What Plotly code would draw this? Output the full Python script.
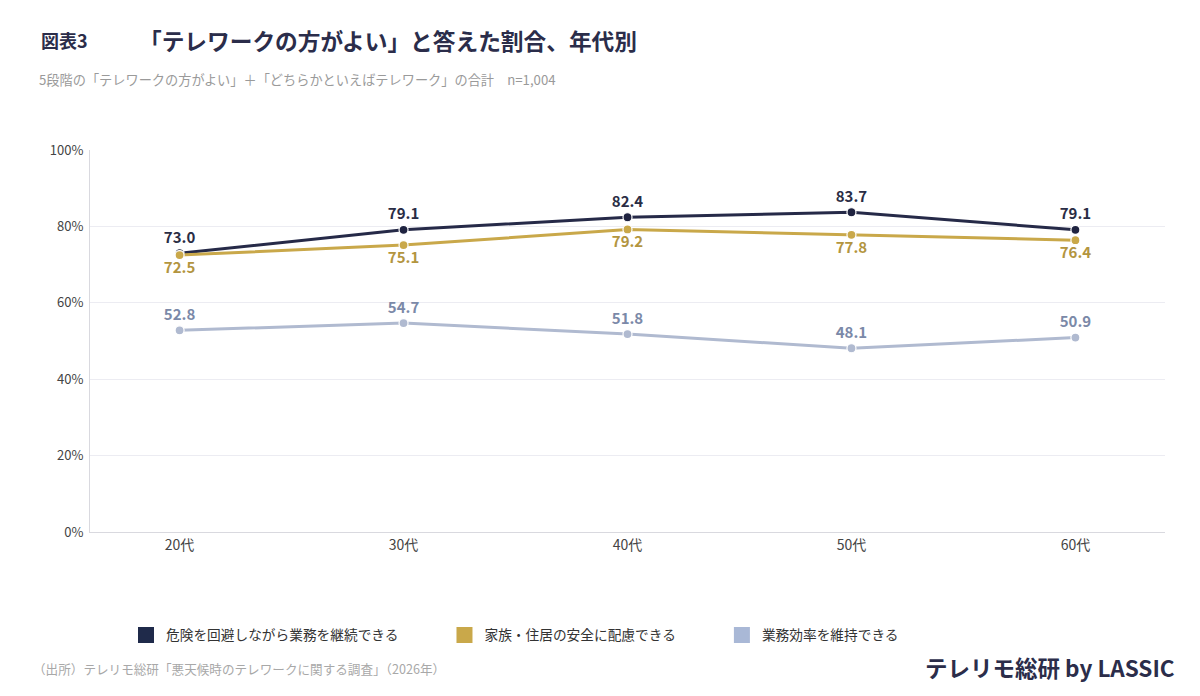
import plotly.graph_objects as go

categories = ["20代", "30代", "40代", "50代", "60代"]
series_names = ["危険を回避しながら業務を継続できる", "家族・住居の安全に配慮できる", "業務効率を維持できる"]
risk_avoid = [73.0, 79.1, 82.4, 83.7, 79.1]
family_safety = [72.5, 75.1, 79.2, 77.8, 76.4]
efficiency = [52.8, 54.7, 51.8, 48.1, 50.9]
y_ticks = [0, 20, 40, 60, 80, 100]

FONT = "Noto Sans CJK JP"
line_colors = ["#262a48", "#c9a84a", "#b0bad0"]
marker_colors = ["#1f2340", "#c9a84a", "#b0bad0"]
label_colors = ["#2a2d45", "#b3953f", "#7b89a8"]
legend_colors = ["#1f2a4a", "#c9a84a", "#a9b8d6"]
text_pos = ["top center", "bottom center", "top center"]

fig = go.Figure()
for i, vals in enumerate([risk_avoid, family_safety, efficiency]):
    fig.add_trace(go.Scatter(
        x=categories, y=vals, mode="lines+markers+text",
        line=dict(color=line_colors[i], width=3),
        marker=dict(color=marker_colors[i], size=9, line=dict(color="white", width=1.2)),
        text=[f"{v:.1f}" for v in vals], textposition=text_pos[i],
        textfont=dict(family=FONT, size=15, color=label_colors[i], weight="bold"),
        showlegend=False, cliponaxis=False,
    ))
# legend entries with square swatches
for i, name in enumerate(series_names):
    fig.add_trace(go.Scatter(
        x=[None], y=[None], mode="markers", name=name + "\u3000\u3000\u3000",
        marker=dict(symbol="square", size=21, color=legend_colors[i]),
        showlegend=True,
    ))

L, R, T, B = 90, 35, 150, 164
PW, PH = 1200 - L - R, 696 - T - B

def px(x):
    return (x - L) / PW

def py(y):
    return (696 - B - y) / PH

annotations = [
    dict(text="図表3", x=px(39), y=py(40), xanchor="left", yanchor="middle",
         font=dict(family=FONT, size=18, color="#2b2d4a", weight="bold")),
    dict(text="「テレワークの方がよい」と答えた割合、年代別", x=px(137), y=py(40), xanchor="left", yanchor="middle",
         font=dict(family=FONT, size=22.7, color="#2b2d4a", weight="bold")),
    dict(text="5段階の「テレワークの方がよい」＋「どちらかといえばテレワーク」の合計　n=1,004",
         x=px(37), y=py(80), xanchor="left", yanchor="middle",
         font=dict(family=FONT, size=13.2, color="#9a9a9a")),
    dict(text="（出所）テレリモ総研「悪天候時のテレワークに関する調査」（2026年）",
         x=px(31), y=py(668), xanchor="left", yanchor="middle",
         font=dict(family=FONT, size=12.6, color="#a8a8a8")),
    dict(text="テレリモ総研 by LASSIC", x=px(1177), y=py(667), xanchor="right", yanchor="middle",
         font=dict(family=FONT, size=22.5, color="#2b2d4a", weight="bold")),
]
for a in annotations:
    a.update(xref="paper", yref="paper", showarrow=False)

fig.update_layout(
    width=1200, height=696,
    margin=dict(l=L, r=R, t=T, b=B, pad=0),
    paper_bgcolor="white", plot_bgcolor="white",
    font=dict(family=FONT, color="#444"),
    annotations=annotations,
    legend=dict(orientation="h", x=px(126), y=py(635), xanchor="left", yanchor="middle",
                font=dict(family=FONT, size=13.7, color="#333"), itemsizing="trace",
                bgcolor="rgba(0,0,0,0)"),
    xaxis=dict(range=[-0.4, 4.4], showgrid=False, showline=True, linecolor="#d9d9df", linewidth=1,
               ticks="", tickfont=dict(family=FONT, size=14, color="#444"), zeroline=False,
               fixedrange=True),
    yaxis=dict(range=[0, 100], tickvals=y_ticks, ticktext=[f"{v}%" for v in y_ticks],
               showgrid=True, gridcolor="#ececf2", gridwidth=1, showline=True, linecolor="#d9d9df",
               linewidth=1, zeroline=False, ticks="", ticklabelstandoff=3,
               tickfont=dict(family=FONT, size=13, color="#444")),
    hovermode=False,
)

fig.write_html("out.html")
